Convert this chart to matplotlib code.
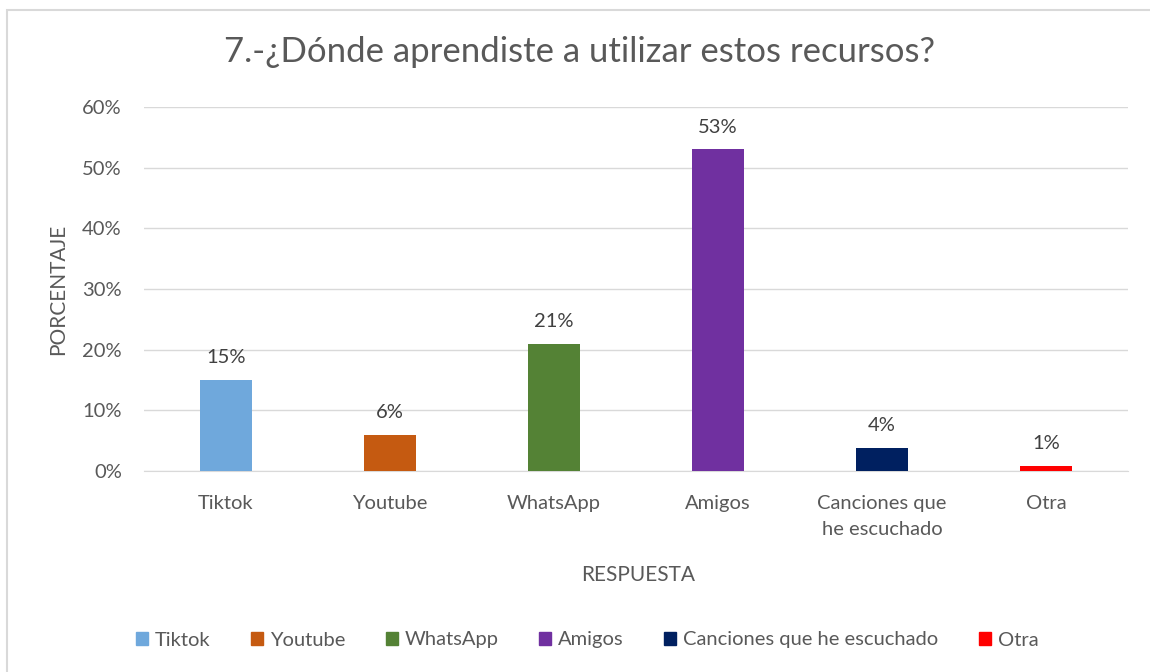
import matplotlib
matplotlib.use("Agg")
import matplotlib.pyplot as plt
from matplotlib.patches import Rectangle, Patch

categories = ["Tiktok", "Youtube", "WhatsApp", "Amigos", "Canciones que\nhe escuchado", "Otra"]
legend_labels = ["Tiktok", "Youtube", "WhatsApp", "Amigos", "Canciones que he escuchado", "Otra"]
values = [15, 6, 21, 53, 3.8, 0.8]
value_labels = ["15%", "6%", "21%", "53%", "4%", "1%"]
colors = ["#6FA8DC", "#C55A11", "#548235", "#7030A0", "#002060", "#FF0000"]
yticks = [0, 10, 20, 30, 40, 50, 60]
ytick_labels = ["0%", "10%", "20%", "30%", "40%", "50%", "60%"]

plt.rcParams['font.family'] = ['Lato', 'DejaVu Sans']
txt = "#595959"

W, H = 1150, 672
fig = plt.figure(figsize=(W / 100, H / 100), dpi=100)
fig.patch.set_facecolor("white")

# chart border (extends beyond right/bottom edges)
fig.patches.append(Rectangle((6.5 / W, -0.05), 1.2, 1 - 9.5 / H + 0.05, transform=fig.transFigure,
                             fill=False, edgecolor="#D9D9D9", linewidth=1.5, zorder=0))

ax = fig.add_axes([144 / W, 1 - 471 / H, 984 / W, (471 - 107) / H])
x = list(range(len(categories)))
ax.bar(x, values, width=0.32, color=colors, zorder=3)
for xi, v, lab in zip(x, values, value_labels):
    ax.annotate(lab, (xi, v), xytext=(0, 10), textcoords="offset points",
                ha="center", va="bottom", fontsize=14.5, color="#404040")

ax.set_xlim(-0.5, len(categories) - 0.5)
ax.set_ylim(0, 60)
ax.set_yticks(yticks)
ax.set_yticklabels(ytick_labels)
ax.set_xticks(x)
ax.set_xticklabels(categories, linespacing=1.7)
ax.grid(axis="y", color="#D9D9D9", linewidth=1, zorder=0)
for s in ["top", "right", "left"]:
    ax.spines[s].set_visible(False)
ax.spines["bottom"].set_color("#D9D9D9")
ax.tick_params(axis="both", length=0, colors=txt, labelsize=14.5)
ax.tick_params(axis="x", pad=17)
ax.tick_params(axis="y", pad=16)

fig.text(580 / W, 1 - 52 / H, "7.-¿Dónde aprendiste a utilizar estos recursos?",
         ha="center", va="center", fontsize=25, color=txt)
fig.text(638 / W, 1 - 575 / H, "RESPUESTA", ha="center", va="center", fontsize=15, color=txt)
fig.text(58 / W, 1 - 289 / H, "PORCENTAJE", ha="center", va="center", rotation=90,
         fontsize=15, color=txt)

handles = [Patch(facecolor=c, edgecolor=c) for c in colors]
fig.legend(handles, legend_labels, loc="center", bbox_to_anchor=(587 / W, 1 - 640 / H),
           ncol=6, frameon=False, fontsize=14.5, handlelength=0.6, handleheight=0.6,
           handletextpad=0.35, columnspacing=2.0, labelcolor=txt)

fig.savefig("out.png", dpi=100)
